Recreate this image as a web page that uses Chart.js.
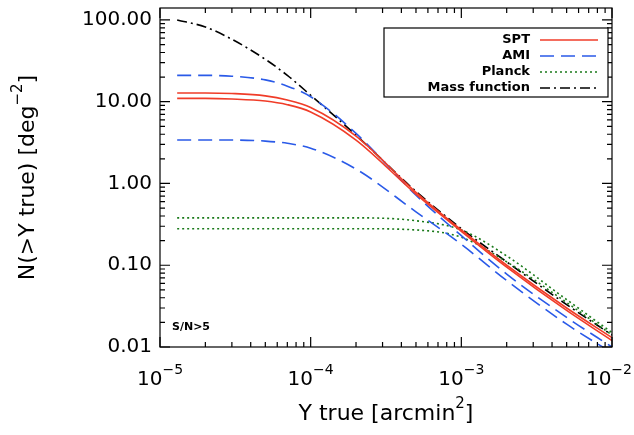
<!DOCTYPE html>
<html>
<head>
<script src="https://cdn.jsdelivr.net/npm/chart.js@4"></script>
<style>
body { margin: 0; background: #fff; }
#wrap { width: 634px; height: 435px; }
</style>
</head>
<body>
<div id="wrap"><canvas id="c"></canvas></div>
<script>
const yTrue = [1.3e-5, 2e-5, 3e-5, 5e-5, 7e-5, 1e-4, 2e-4, 5e-4, 1e-3, 2e-3, 5e-3, 1e-2];
const sptHigh = [12.8, 12.8, 12.6, 11.8, 10.5, 8.5, 3.8, 0.78, 0.27, 0.10, 0.030, 0.013];
const sptLow = [11.0, 11.0, 10.8, 10.2, 9.2, 7.5, 3.4, 0.74, 0.26, 0.095, 0.028, 0.012];
const amiHigh = [21, 21, 20.5, 18.5, 15.5, 11.5, 4.1, 0.72, 0.23, 0.078, 0.023, 0.010];
const amiLow = [3.4, 3.4, 3.4, 3.3, 3.1, 2.7, 1.5, 0.45, 0.18, 0.065, 0.019, 0.0085];
const planckHigh = [0.38, 0.38, 0.38, 0.38, 0.38, 0.38, 0.38, 0.35, 0.27, 0.13, 0.038, 0.015];
const planckLow = [0.28, 0.28, 0.28, 0.28, 0.28, 0.28, 0.28, 0.27, 0.22, 0.11, 0.035, 0.014];
const massFunction = [100, 82, 58, 33, 21, 12, 3.9, 0.80, 0.28, 0.11, 0.033, 0.014];
const xTicks = [-5, -4, -3, -2];
const yTicks = [0.01, 0.1, 1, 10, 100];

const pts = arr => arr.map((v, i) => ({ x: yTrue[i], y: v }));
const RED = '#f03c28', BLUE = '#2a5ae8', GREEN = '#1a7a1a';

function ds(label, data, color, dash, hidden) {
    return { label, data: pts(data), borderColor: color, borderWidth: 1.6, borderDash: dash,
        pointRadius: 0, cubicInterpolationMode: 'monotone', fill: false, legendHide: hidden };
}

const frame = {
    id: 'frame',
    afterDraw(chart) {
        const { ctx, chartArea: a, scales: { x, y } } = chart;
        ctx.save();
        ctx.strokeStyle = '#000'; ctx.lineWidth = 1.2;
        ctx.strokeRect(a.left, a.top, a.right - a.left, a.bottom - a.top);
        // ticks
        ctx.beginPath();
        for (let d = -5; d <= -2; d++) {
            for (let m = 1; m <= 9; m++) {
                const v = m * Math.pow(10, d);
                if (v > 1e-2) break;
                const px = x.getPixelForValue(v), len = m === 1 ? 10 : 5;
                ctx.moveTo(px, a.bottom); ctx.lineTo(px, a.bottom - len);
                ctx.moveTo(px, a.top); ctx.lineTo(px, a.top + len);
            }
        }
        for (let d = -2; d <= 2; d++) {
            for (let m = 1; m <= 9; m++) {
                const v = m * Math.pow(10, d);
                if (v > 100) break;
                const py = y.getPixelForValue(v), len = m === 1 ? 10 : 5;
                if (py < a.top - 1) continue;
                ctx.moveTo(a.left, py); ctx.lineTo(a.left + len, py);
                ctx.moveTo(a.right, py); ctx.lineTo(a.right - len, py);
            }
        }
        ctx.stroke();
        // x tick labels
        ctx.fillStyle = '#000'; ctx.textBaseline = 'alphabetic';
        xTicks.forEach((p, i) => {
            const px = x.getPixelForValue(Math.pow(10, p));
            ctx.font = '20px "DejaVu Sans"';
            const w1 = ctx.measureText('10').width;
            ctx.font = '14px "DejaVu Sans"';
            const w2 = ctx.measureText(String(p).replace('-', '\u2212')).width;
            let sx = px - (w1 + w2) / 2;
            if (i === xTicks.length - 1) sx = Math.min(sx, 632 - w1 - w2);
            ctx.font = '20px "DejaVu Sans"'; ctx.textAlign = 'left';
            ctx.fillText('10', sx, a.bottom + 38);
            ctx.font = '14px "DejaVu Sans"';
            ctx.fillText(String(p).replace('-', '\u2212'), sx + w1, a.bottom + 27);
        });
        // y tick labels
        ctx.font = '20px "DejaVu Sans"'; ctx.textAlign = 'right'; ctx.textBaseline = 'middle';
        yTicks.forEach(v => ctx.fillText(v.toFixed(2), a.left - 8, y.getPixelForValue(v)));
        // axis titles
        ctx.textAlign = 'left'; ctx.textBaseline = 'alphabetic';
        ctx.font = '22px "DejaVu Sans"';
        const t1 = 'Y true [arcmin';
        const tw = ctx.measureText(t1).width;
        ctx.font = '15px "DejaVu Sans"'; const sw = ctx.measureText('2').width;
        ctx.font = '22px "DejaVu Sans"'; const bw = ctx.measureText(']').width;
        let sx = (a.left + a.right) / 2 - (tw + sw + bw) / 2;
        ctx.fillText(t1, sx, 420);
        ctx.font = '15px "DejaVu Sans"'; ctx.fillText('2', sx + tw, 408);
        ctx.font = '22px "DejaVu Sans"'; ctx.fillText(']', sx + tw + sw, 420);
        ctx.save();
        ctx.translate(26, (a.top + a.bottom) / 2); ctx.rotate(-Math.PI / 2);
        const y1 = 'N(>Y true) [deg', y2 = '\u22122', y3 = ']';
        const w1 = ctx.measureText(y1).width;
        ctx.font = '15px "DejaVu Sans"'; const w2 = ctx.measureText(y2).width;
        ctx.font = '22px "DejaVu Sans"'; const w3 = ctx.measureText(y3).width;
        let yx = -(w1 + w2 + w3) / 2;
        ctx.fillText(y1, yx, 8);
        ctx.font = '15px "DejaVu Sans"'; ctx.fillText(y2, yx + w1, -4);
        ctx.font = '22px "DejaVu Sans"'; ctx.fillText(y3, yx + w1 + w2, 8);
        ctx.restore();
        // annotation
        ctx.font = 'bold 11px "DejaVu Sans"';
        ctx.fillText('S/N>5', 172, 330);
        // legend
        const lx = 384, ly = 28, lw = 224, lh = 69;
        ctx.fillStyle = '#fff'; ctx.fillRect(lx, ly, lw, lh);
        ctx.strokeRect(lx, ly, lw, lh);
        const items = chart.data.datasets.filter(d => !d.legendHide);
        ctx.font = 'bold 13px "DejaVu Sans"'; ctx.textAlign = 'right'; ctx.textBaseline = 'middle';
        items.forEach((d, i) => {
            const yy = ly + 12 + i * 16;
            ctx.fillStyle = '#000'; ctx.fillText(d.label, lx + 146, yy);
            ctx.strokeStyle = d.borderColor; ctx.lineWidth = 1.6;
            ctx.setLineDash(d.borderDash || []);
            ctx.beginPath(); ctx.moveTo(lx + 156, yy); ctx.lineTo(lx + 214, yy); ctx.stroke();
            ctx.setLineDash([]);
        });
        ctx.restore();
    }
};

new Chart(document.getElementById('c'), {
    type: 'line',
    data: {
        datasets: [
            ds('SPT', sptHigh, RED, [], false),
            ds('SPT', sptLow, RED, [], true),
            ds('AMI', amiHigh, BLUE, [14, 7], false),
            ds('AMI', amiLow, BLUE, [14, 7], true),
            ds('Planck', planckHigh, GREEN, [2, 3], false),
            ds('Planck', planckLow, GREEN, [2, 3], true),
            ds('Mass function', massFunction, '#000', [10, 4, 2, 4], false)
        ]
    },
    plugins: [frame],
    options: {
        responsive: true,
        maintainAspectRatio: false,
        animation: false,
        layout: { padding: { left: 160, right: 22, top: 8, bottom: 88 } },
        plugins: { legend: { display: false }, tooltip: { enabled: false } },
        scales: {
            x: { type: 'logarithmic', min: 1e-5, max: 1e-2, display: false },
            y: { type: 'logarithmic', min: 0.01, max: 140, display: false }
        }
    }
});
</script>
</body>
</html>
